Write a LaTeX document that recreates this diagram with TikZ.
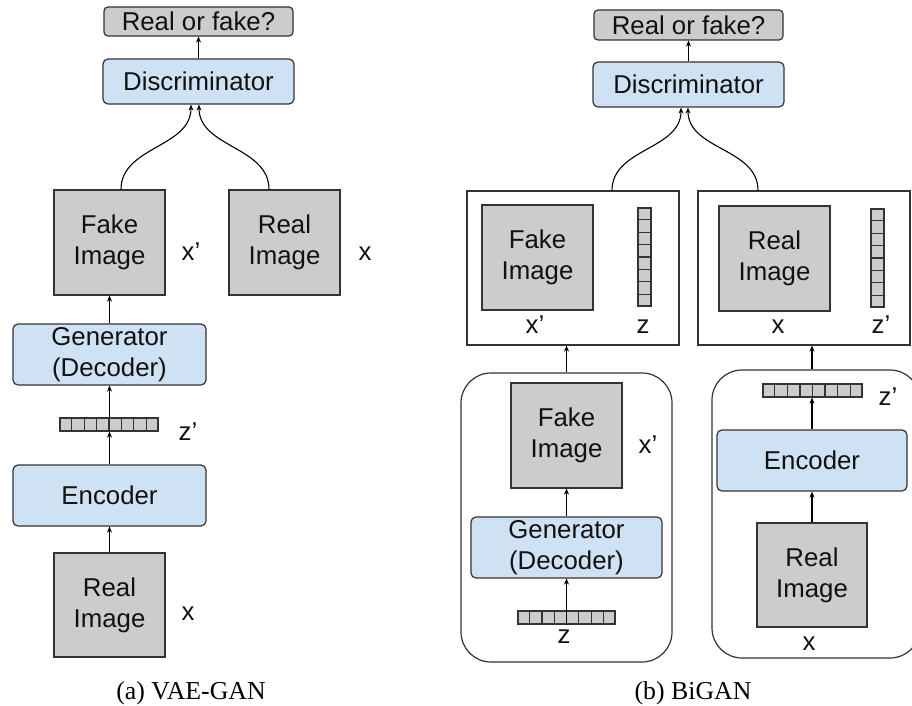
\documentclass[tikz,border=0pt]{standalone}
\usepackage{fontspec}
\setmainfont{Liberation Sans}
\newfontfamily\capfont{Liberation Serif}
\usetikzlibrary{calc,arrows.meta}
\definecolor{edgec}{HTML}{333333}
\definecolor{imggray}{HTML}{CCCCCC}
\definecolor{netblue}{HTML}{CFE2F3}
\definecolor{txt}{HTML}{111111}
\tikzset{
  base/.style={font=\fontsize{25.8}{31}\selectfont, text=txt, inner sep=0pt, align=center},
  imgbox/.style={base, draw=edgec, line width=1.2pt, fill=imggray, minimum width=111pt, minimum height=105pt},
  netbox/.style={base, draw=edgec, line width=1.2pt, fill=netblue, rounded corners=5pt},
  qbox/.style={base, draw=edgec, line width=1.2pt, fill=imggray, rounded corners=4pt, minimum width=189pt},
  vecbox/.style={draw=edgec, line width=1.2pt, fill=imggray, inner sep=0pt},
  groupbox/.style={draw=edgec, line width=1.2pt, inner sep=0pt},
  roundbox/.style={draw=edgec, line width=1.2pt, inner sep=0pt, rounded corners=30pt},
  lbl/.style={base, anchor=base},
  caption/.style={font=\capfont\fontsize{25.8}{31}\selectfont, text=black, anchor=base, inner sep=0pt},
  arr/.style={draw=black, line width=1.1pt, -{Stealth[length=6pt,width=5pt]}},
}
\newcommand{\hcells}[1]{\foreach \i in {1,...,7}{\draw[edgec, line width=1.1pt] ($(#1.north west)!\i/8!(#1.north east)$) -- ($(#1.south west)!\i/8!(#1.south east)$);}}
\newcommand{\vcells}[1]{\foreach \i in {1,...,7}{\draw[edgec, line width=1.1pt] ($(#1.north west)!\i/8!(#1.south west)$) -- ($(#1.north east)!\i/8!(#1.south east)$);}}
\begin{document}
\begin{tikzpicture}[x=1pt, y=-1pt]
\clip (0,0) rectangle (912,706);
\fill[white] (0,0) rectangle (912,706);

% ---------------- VAE-GAN ----------------
\node[qbox, minimum height=29pt] (rf1) at (198.5,21.5) {Real or fake?};
\node[netbox, minimum width=191pt, minimum height=45pt] (disc1) at (198.5,81.5) {Discriminator};
\node[imgbox] (fake1) at (109.5,242.5) {Fake\\Image};
\node[imgbox] (real1) at (284.5,242.5) {Real\\Image};
\node[lbl] (lxp1) at (191,260) {x’};
\node[lbl] (lx1) at (365,260) {x};
\node[netbox, minimum width=193pt, minimum height=61pt] (gen1) at (109.5,354.5) {Generator\\(Decoder)};
\node[vecbox, minimum width=98pt, minimum height=13pt] (zv1) at (109,424.5) {};
\hcells{zv1}
\node[lbl] (lzp1) at (188,440) {z’};
\node[netbox, minimum width=193pt, minimum height=61pt] (enc1) at (109.5,495.5) {Encoder};
\node[imgbox, minimum height=104pt] (real1b) at (109.5,605) {Real\\Image};
\node[lbl] (lx1b) at (188,620) {x};
\node[caption] (capa) at (191,699) {(a) VAE-GAN};

\draw[arr] (disc1.north) -- (rf1.south);
\draw[arr] ($(fake1.north)+(11.5,0)$) to[out=90,in=-90] ($(disc1.south)+(-7.5,0)$);
\draw[arr] ($(real1.north)+(-15.5,0)$) to[out=90,in=-90] ($(disc1.south)+(0.5,0)$);
\draw[arr] (gen1.north -| fake1) -- (fake1.south);
\draw[arr] (zv1.north -| gen1) -- (gen1.south);
\draw[arr] (enc1.north) -- (zv1.south -| enc1);
\draw[arr] (real1b.north) -- (enc1.south);

% ---------------- BiGAN ----------------
\node[qbox, minimum height=30pt] (rf2) at (688.5,25) {Real or fake?};
\node[netbox, minimum width=191pt, minimum height=45pt] (disc2) at (688.5,84.5) {Discriminator};

\node[groupbox, minimum width=212pt, minimum height=154pt] (boxL) at (573,268) {};
\node[imgbox] (fake2) at (537.5,257.5) {Fake\\Image};
\node[vecbox, minimum width=13pt, minimum height=98pt] (zc1) at (644.5,257) {};
\vcells{zc1}
\node[lbl] (lxp2) at (535,333) {x’};
\node[lbl] (lz2) at (643,333) {z};

\node[groupbox, minimum width=212pt, minimum height=154pt] (boxR) at (804,268) {};
\node[imgbox] (real2) at (774.5,258.5) {Real\\Image};
\node[vecbox, minimum width=13pt, minimum height=98pt] (zc2) at (877.5,258) {};
\vcells{zc2}
\node[lbl] (lx2) at (778,333) {x};
\node[lbl] (lzp2) at (881,333) {z’};

\node[roundbox, minimum width=211pt, minimum height=289pt] (rndL) at (566.5,517.5) {};
\node[imgbox] (fake3) at (566.5,435.5) {Fake\\Image};
\node[lbl] (lxp3) at (648,453) {x’};
\node[netbox, minimum width=191pt, minimum height=61pt] (gen2) at (566.5,547.5) {Generator\\(Decoder)};
\node[vecbox, minimum width=97pt, minimum height=13pt] (zv2) at (566.5,617.5) {};
\hcells{zv2}
\node[lbl] (lz3) at (564,643) {z};

\node[roundbox, minimum width=208pt, minimum height=288pt] (rndR) at (816,514) {};
\node[vecbox, minimum width=99pt, minimum height=13pt] (zv3) at (812.5,390.5) {};
\hcells{zv3}
\node[lbl] (lzp3) at (888,405) {z’};
\node[netbox, minimum width=190pt, minimum height=61pt] (enc2) at (812,460.5) {Encoder};
\node[imgbox, minimum width=110pt, minimum height=104pt] (real3) at (812,575) {Real\\Image};
\node[lbl] (lx3) at (809,650) {x};
\node[caption] (capb) at (693,699) {(b) BiGAN};

\draw[arr] (disc2.north) -- (rf2.south);
\draw[arr] ($(boxL.north)+(39,0)$) to[out=90,in=-90] ($(disc2.south)+(-7.5,0)$);
\draw[arr] ($(boxR.north)+(-46,0)$) to[out=90,in=-90] ($(disc2.south)+(-0.5,0)$);
\draw[arr] (rndL.north) -- (boxL.south -| rndL.north);
\draw[arr] (gen2.north) -- (fake3.south);
\draw[arr] (zv2.south) -- (gen2.south);
\draw[arr] (rndR.north -| enc2) -- (boxR.south -| enc2);
\draw[arr] (enc2.north) -- (zv3.south -| enc2);
\draw[arr] (real3.north) -- (enc2.south);
\end{tikzpicture}
\end{document}
